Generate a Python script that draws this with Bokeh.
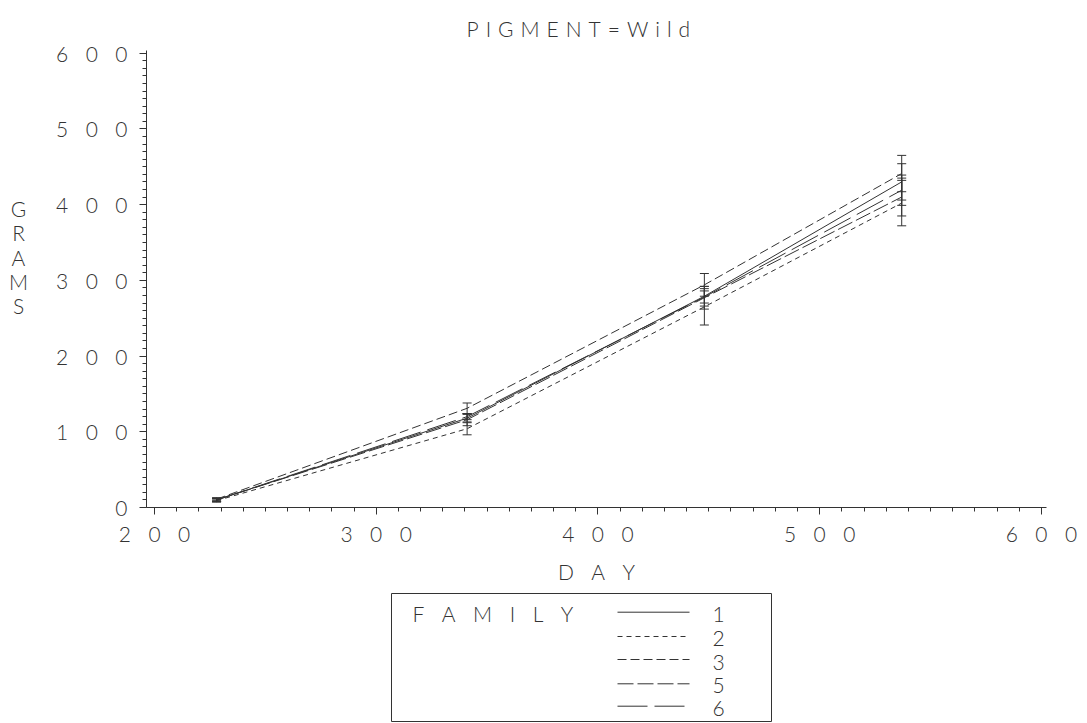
from bokeh.plotting import figure
from bokeh.layouts import column, row
from bokeh.models import (Range1d, SingleIntervalTicker, ColumnDataSource, Whisker,
                          TeeHead)
from bokeh.core.properties import value
from bokeh.embed import file_html
from bokeh.resources import INLINE

# ---------------- data ----------------
days = [228, 341, 448, 537]
family_names = ["1", "2", "3", "5", "6"]
fam1 = [10, 118, 279, 430]
fam2 = [9, 104, 265, 402]
fam3 = [11, 131, 294, 441]
fam5 = [10, 116, 277, 410]
fam6 = [10, 120, 278, 419]
err1 = [2, 5, 13, 24]
err2 = [2, 8, 24, 30]
err3 = [2, 7, 15, 24]
err5 = [2, 8, 15, 25]
err6 = [2, 4, 8, 20]
x_ticks = [200, 300, 400, 500, 600]
y_ticks = [0, 100, 200, 300, 400, 500, 600]
title_text = "PIGMENT=Wild"
x_title = "DAY"
y_title = "GRAMS"
legend_title = "FAMILY"

# ---------------- styles ----------------
FONT = "Lato Light"
FS = "21px"
INK = "#333333"
SEP = "\u2002\u2004"
dashes = {"1": "solid", "2": "5 4", "3": "9 4", "5": "16 4", "6": "30 7"}


def spaced(s, sep=SEP):
    return sep.join(list(s))


TOP_H = 590
LEG_H = 723 - TOP_H
GW = 40
MW = 1087 - GW

# ---------------- main plot ----------------
p = figure(width=MW, height=TOP_H, x_range=Range1d(196.4, 602.3),
           y_range=Range1d(0, 603.5), output_backend="svg", toolbar_location=None,
           min_border_left=106, min_border_right=41, min_border_top=50,
           min_border_bottom=83)
p.outline_line_color = None
p.grid.visible = False

p.title.text = spaced(title_text, "\u2004")
p.title.align = "left"
p.title.offset = 320
p.title.standoff = 20
p.title.text_font = FONT
p.title.text_font_size = FS
p.title.text_font_style = "normal"
p.title.text_color = INK

for ax, ticks in ((p.xaxis, x_ticks), (p.yaxis, y_ticks)):
    ax.ticker = SingleIntervalTicker(interval=100, num_minor_ticks=10)
    ax.major_label_overrides = {t: spaced(str(t)) for t in ticks}
    ax.axis_line_color = INK
    ax.major_tick_line_color = INK
    ax.minor_tick_line_color = INK
    ax.major_tick_out = 7
    ax.major_tick_in = 0
    ax.minor_tick_out = 4
    ax.minor_tick_in = 0
    ax.major_label_text_font = FONT
    ax.major_label_text_font_size = FS
    ax.major_label_text_color = INK
p.xaxis.major_label_standoff = 6
p.yaxis.major_label_standoff = 12
p.xaxis.axis_label = spaced(x_title)
p.xaxis.axis_label_text_font = FONT
p.xaxis.axis_label_text_font_size = FS
p.xaxis.axis_label_text_font_style = "normal"
p.xaxis.axis_label_text_color = INK
p.xaxis.axis_label_standoff = 10

series = [fam1, fam2, fam3, fam5, fam6]
errs = [err1, err2, err3, err5, err6]
for name, vals, err in zip(family_names, series, errs):
    p.line(days, vals, line_color=INK, line_width=1, line_dash=dashes[name])
    src = ColumnDataSource(dict(base=days,
                                upper=[v + e for v, e in zip(vals, err)],
                                lower=[v - e for v, e in zip(vals, err)]))
    w = Whisker(base="base", upper="upper", lower="lower", source=src,
                line_color=INK, line_width=1,
                upper_head=TeeHead(size=9, line_color=INK, line_width=1),
                lower_head=TeeHead(size=9, line_color=INK, line_width=1))
    p.add_layout(w)


def blank(width, height, y0, y1):
    f = figure(width=width, height=height, x_range=Range1d(0, width),
               y_range=Range1d(y0, y1), x_axis_type=None, y_axis_type=None,
               output_backend="svg", toolbar_location=None, min_border=0)
    f.outline_line_color = None
    f.grid.visible = False
    return f


def txt(f, xs, ys, texts, align="center"):
    f.text(x=xs, y=ys, text=texts, text_font=value(FONT), text_font_size=value(FS),
           text_color=INK, text_align=align, text_baseline="middle")


# ---------------- y axis title (stacked letters) ----------------
# this panel's frame is aligned with the main frame (page rows 50..507)
g = blank(GW, TOP_H, 507, 50)
txt(g, [18] * len(y_title), [208 + i * 24.3 for i in range(len(y_title))], list(y_title))

# ---------------- legend ----------------
leg = blank(1087, LEG_H, LEG_H, 0)
leg.quad(left=391, right=771, top=3, bottom=131, fill_color=None,
         line_color=INK, line_width=1)
txt(leg, [412], [23], [spaced(legend_title)], align="left")
leg_line_y = [21.7, 46, 69, 93.3, 115.7]
leg_text_y = [24, 48.3, 71.7, 95, 118.3]
for name, ly in zip(family_names, leg_line_y):
    leg.segment(x0=[617], y0=[ly], x1=[689], y1=[ly], line_color=INK,
                line_width=1, line_dash=dashes[name])
txt(leg, [718] * len(family_names), leg_text_y, family_names)

layout = column(row(g, p), leg)
open("out.html", "w").write(file_html(layout, INLINE))
